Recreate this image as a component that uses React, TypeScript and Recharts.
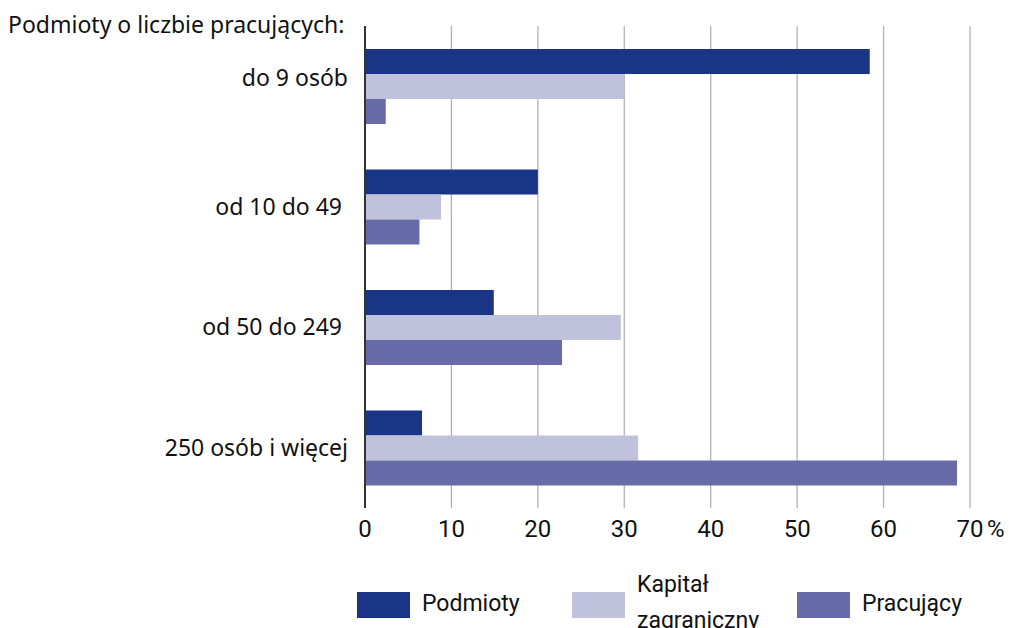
import { BarChart, Bar, XAxis, YAxis, CartesianGrid } from "recharts";

const categories = ["do 9 osób", "od 10 do 49 ", "od 50 do 249 ", "250 osób i więcej"];
const podmioty = [58.4, 20.0, 14.9, 6.6];
const kapital = [30.0, 8.8, 29.6, 31.6];
const pracujacy = [2.4, 6.3, 22.8, 68.5];
const xTicks = [0, 10, 20, 30, 40, 50, 60, 70];

const COLORS = { podmioty: "#1a3585", kapital: "#c0c1dd", pracujacy: "#676ca9" };
const FONT = "'Noto Sans', sans-serif";
const TICK_FONT = "Roboto, sans-serif";

const data = categories.map((name, i) => ({
  name,
  podmioty: podmioty[i],
  kapital: kapital[i],
  pracujacy: pracujacy[i],
}));

function CategoryTick({ y, payload, index }: any) {
  return (
    <text
      x={348}
      y={y}
      dy={index === 0 ? 0 : 8}
      textAnchor="end"
      fontSize={23}
      fontFamily={FONT}
      fill="#111"
      style={{ whiteSpace: "pre" }}
    >
      {payload.value}
    </text>
  );
}

function ValueTick({ x, y, payload }: any) {
  const last = payload.value === 70;
  return (
    <g>
      <text x={x} y={y + 21} textAnchor="middle" fontSize={24} fontFamily={TICK_FONT} fill="#111">
        {payload.value}
      </text>
      {last && (
        <text x={x + 17} y={y + 21} textAnchor="start" fontSize={24} fontFamily={TICK_FONT} fill="#111">
          %
        </text>
      )}
    </g>
  );
}

function LegendBox() {
  const items = [
    { color: COLORS.podmioty, left: 357, lines: ["Podmioty"] },
    { color: COLORS.kapital, left: 572, lines: ["Kapitał", "zagraniczny"] },
    { color: COLORS.pracujacy, left: 797, lines: ["Pracujący"] },
  ];
  return (
    <div style={{ position: "absolute", left: 0, top: 575, width: 1009, height: 60, fontFamily: TICK_FONT, fontSize: 23, color: "#111" }}>
      {items.map((it) => (
        <div key={it.left}>
          <div style={{ position: "absolute", left: it.left, top: 17, width: 53, height: 26, background: it.color }} />
          <div style={{ position: "absolute", left: it.left + 65, top: it.lines.length > 1 ? -8 : 13, lineHeight: it.lines.length > 1 ? "36px" : "32px", whiteSpace: "nowrap" }}>
            {it.lines.map((l) => (
              <div key={l}>{l}</div>
            ))}
          </div>
        </div>
      ))}
    </div>
  );
}

export default function App() {
  return (
    <div style={{ position: "absolute", left: 0, top: 0, width: 1009, height: 628, overflow: "hidden", background: "#fff" }}>
      <div style={{ position: "absolute", left: 8, top: 8, fontFamily: FONT, fontSize: 23, color: "#111", whiteSpace: "nowrap" }}>
        Podmioty o liczbie pracujących:
      </div>
      <BarChart
        width={1009}
        height={628}
        data={data}
        layout="vertical"
        margin={{ top: 26, right: 39, bottom: 80, left: 10 }}
        barGap={0}
        barSize={25}
      >
        <CartesianGrid horizontal={false} vertical stroke="#b3b3b3" strokeWidth={1.3} />
        <XAxis
          type="number"
          domain={[0, 70]}
          ticks={xTicks}
          axisLine={false}
          tickLine={false}
          tick={<ValueTick />}
          height={40}
        />
        <YAxis
          type="category"
          dataKey="name"
          width={355}
          axisLine={{ stroke: "#333", strokeWidth: 2 }}
          tickLine={false}
          tick={<CategoryTick />}
        />
        <Bar dataKey="podmioty" name="Podmioty" fill={COLORS.podmioty} isAnimationActive={false} />
        <Bar dataKey="kapital" name="Kapitał zagraniczny" fill={COLORS.kapital} isAnimationActive={false} />
        <Bar dataKey="pracujacy" name="Pracujący" fill={COLORS.pracujacy} isAnimationActive={false} />
      </BarChart>
      <LegendBox />
    </div>
  );
}
